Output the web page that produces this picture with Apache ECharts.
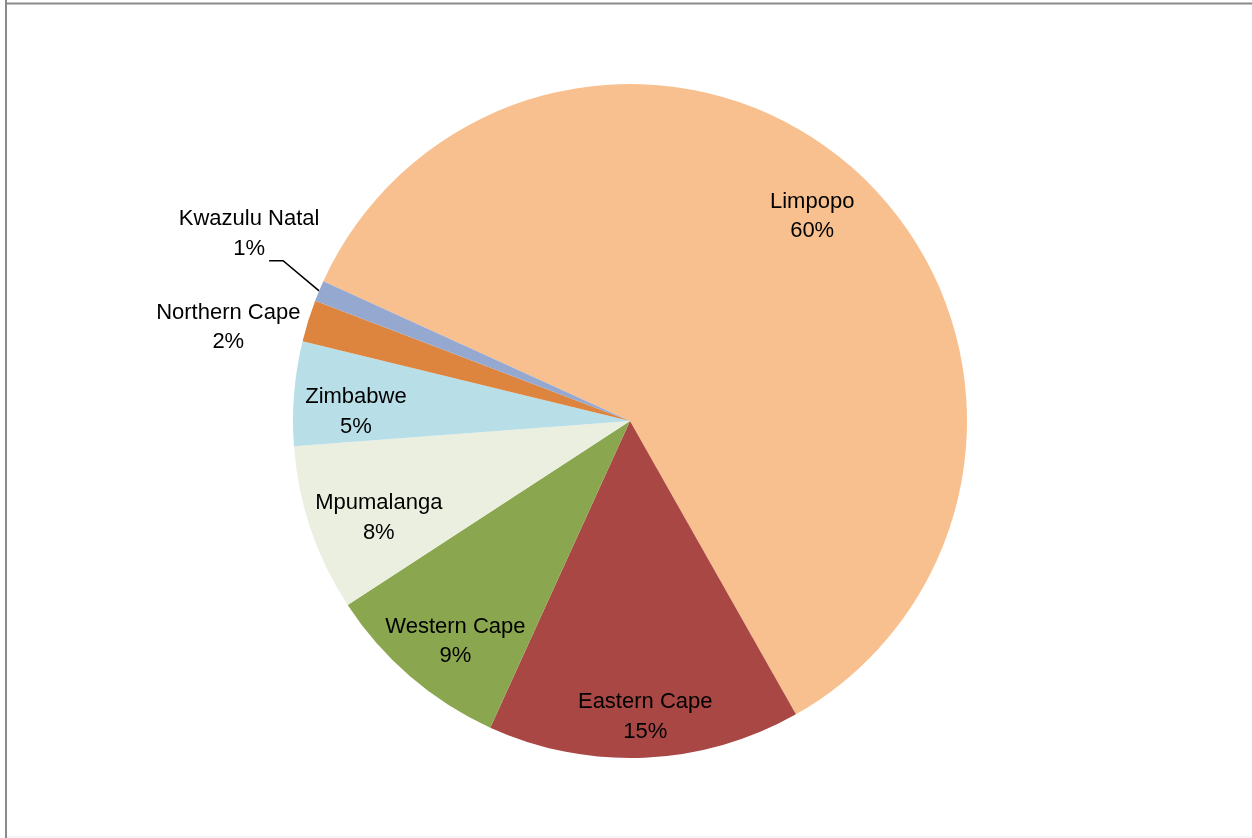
<!DOCTYPE html>
<html>
<head>
<meta charset="utf-8">
<script src="https://cdn.jsdelivr.net/npm/echarts@6/dist/echarts.min.js"></script>
<style>
  html, body { margin: 0; padding: 0; background: #ffffff; }
  #chart { width: 1252px; height: 838px; }
</style>
</head>
<body>
<div id="chart"></div>
<script>
// Share of supply by province / country (percent)
const categories = ['Limpopo', 'Eastern Cape', 'Western Cape', 'Mpumalanga', 'Zimbabwe', 'Northern Cape', 'Kwazulu Natal'];
const shares = [60, 15, 9, 8, 5, 2, 1];
const sliceColors = ['#F9C08F', '#A94745', '#8AA64F', '#EBEFDF', '#B8DEE8', '#DD843E', '#95A8D0'];
// Slices whose labels sit outside the pie
const outsideLabels = ['Northern Cape', 'Kwazulu Natal'];

// Small label nudges (px) applied after the library places the inside labels
const labelNudge = {
  'Limpopo': [-7, 2],
  'Eastern Cape': [3, 16],
  'Western Cape': [8, 8],
  'Mpumalanga': [14, 7],
  'Zimbabwe': [5, 14]
};

const FONT = '"Liberation Sans", Arial, sans-serif';
const FONT_SIZE = 22;
const LINE_H = 29.5;

const center = [630, 421];
const R = 337;
const START = 155.5;

const chart = echarts.init(document.getElementById('chart'), null, { renderer: 'canvas' });

const labelText = {
  color: '#000',
  fontFamily: FONT,
  fontSize: FONT_SIZE,
  lineHeight: LINE_H
};

// Colored sectors, plus the two outside labels
const mainData = categories.map((name, i) => {
  const outside = outsideLabels.indexOf(name) >= 0;
  const item = {
    name: name,
    value: shares[i],
    itemStyle: { color: sliceColors[i] },
    label: { show: outside },
    labelLine: { show: false }
  };
  if (name === 'Kwazulu Natal') {
    item.labelLine = { show: true, length: 46, length2: 14, lineStyle: { color: '#000', width: 1.6 } };
  }
  if (name === 'Northern Cape') {
    item.labelLine = { show: true, length: 4, length2: 2, lineStyle: { opacity: 0, width: 0 } };
  }
  return item;
});

// Transparent ring used only to place the inside labels toward the rim
const labelData = categories.map((name, i) => ({
  name: name,
  value: shares[i],
  itemStyle: { color: 'rgba(0,0,0,0)' },
  label: { show: outsideLabels.indexOf(name) < 0 }
}));

const option = {
  backgroundColor: '#ffffff',
  animation: false,
  graphic: [
    { type: 'line', shape: { x1: 6, y1: 0, x2: 6, y2: 838 }, style: { stroke: '#8a8a8a', lineWidth: 2 }, silent: true },
    { type: 'line', shape: { x1: 5, y1: 3.5, x2: 1252, y2: 3.5 }, style: { stroke: '#8a8a8a', lineWidth: 2 }, silent: true },
    { type: 'line', shape: { x1: 7, y1: 837, x2: 1252, y2: 837 }, style: { stroke: '#ececec', lineWidth: 1 }, silent: true }
  ],
  series: [
    {
      type: 'pie',
      center: center,
      radius: [0, R],
      startAngle: START,
      clockwise: true,
      avoidLabelOverlap: false,
      data: mainData,
      label: Object.assign({
        position: 'outside',
        alignTo: 'none',
        distanceToLabelLine: 2,
        formatter: p => p.name + '\n' + p.value + '%'
      }, labelText),
      labelLayout: function (p) {
        const name = categories[p.dataIndex];
        const r = p.labelRect;
        if (name === 'Kwazulu Natal' && p.labelLinePoints) {
          // Leader: a steeper first leg, then a short horizontal tail
          const p0 = p.labelLinePoints[0];
          const ang = 40 * Math.PI / 180;
          const p1 = [p0[0] - 47 * Math.cos(ang), p0[1] - 47 * Math.sin(ang)];
          const p2 = [p1[0] - 14, p1[1]];
          return {
            x: p2[0] - 20, y: p2[1] - 27,
            align: 'center', verticalAlign: 'middle',
            labelLinePoints: [p0, p1, p2]
          };
        }
        return {
          x: r.x + r.width / 2, y: r.y + r.height / 2 + 8,
          align: 'center', verticalAlign: 'middle'
        };
      },
      emphasis: { disabled: true }
    },
    {
      type: 'pie',
      center: center,
      radius: [217, R],
      startAngle: START,
      clockwise: true,
      silent: true,
      avoidLabelOverlap: false,
      data: labelData,
      label: Object.assign({
        position: 'inside',
        align: 'center',
        formatter: p => p.name + '\n' + p.value + '%'
      }, labelText),
      labelLayout: function (p) {
        const n = labelNudge[categories[p.dataIndex]] || [0, 0];
        const r = p.labelRect;
        return {
          x: r.x + r.width / 2 + n[0], y: r.y + r.height / 2 + n[1],
          align: 'center', verticalAlign: 'middle'
        };
      },
      labelLine: { show: false },
      emphasis: { disabled: true }
    }
  ]
};

chart.setOption(option);
</script>
</body>
</html>
